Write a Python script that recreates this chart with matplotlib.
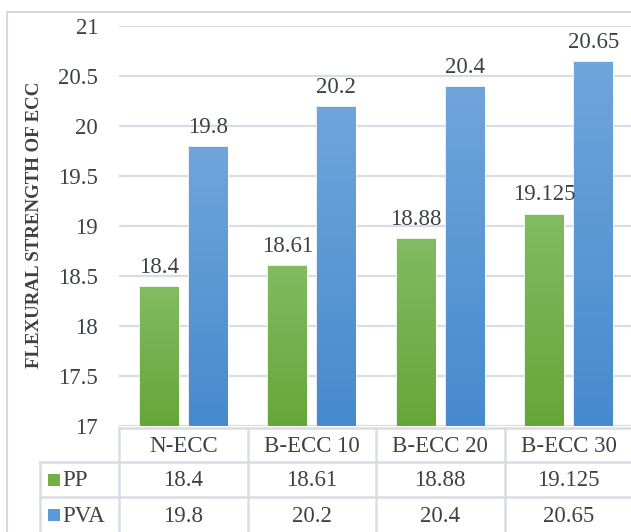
import matplotlib
matplotlib.use("Agg")
import matplotlib.pyplot as plt
import numpy as np
from matplotlib.lines import Line2D
from matplotlib.patches import Rectangle
from matplotlib.colors import LinearSegmentedColormap

categories = ["N-ECC", "B-ECC 10", "B-ECC 20", "B-ECC 30"]
pp_values = [18.4, 18.61, 18.88, 19.125]
pva_values = [19.8, 20.2, 20.4, 20.65]
pp_labels = ["18.4", "18.61", "18.88", "19.125"]
pva_labels = ["19.8", "20.2", "20.4", "20.65"]
series_names = ["PP", "PVA"]
y_ticks = [17, 17.5, 18, 18.5, 19, 19.5, 20, 20.5, 21]

W, H = 631, 532
TEXT = "#3e4048"
GRID = "#d9dde3"
FS = 16.5

plt.rcParams["font.family"] = ["Liberation Serif", "DejaVu Serif"]


def fx(x):
    return x / W


def fy(y):
    return 1 - y / H


def gradient_bars(ax, bars, top, bottom):
    # office-like vertical gradient, clipped to each bar
    cmap = LinearSegmentedColormap.from_list("g", [bottom, top])
    grad = np.linspace(0, 1, 256).reshape(-1, 1)
    ymin = ax.get_ylim()[0]
    for b in bars:
        x0 = b.get_x()
        y1 = b.get_y() + b.get_height()
        im = ax.imshow(grad, cmap=cmap, origin="lower", aspect="auto",
                       extent=[x0, x0 + b.get_width(), ymin, y1], zorder=2)
        im.set_clip_path(b)


fig = plt.figure(figsize=(W / 100, H / 100), dpi=100)
ax = fig.add_axes([fx(119), fy(426), fx(633 - 119), (426 - 26) / H])
ax.set_xlim(-0.5, len(categories) - 0.5)
ax.set_ylim(y_ticks[0], y_ticks[-1])

x = np.arange(len(categories))
w = 0.31
off = 0.19
base = y_ticks[0]
pp_bars = ax.bar(x - off, np.array(pp_values) - base, w, bottom=base,
                 facecolor="none", edgecolor="white", linewidth=0.6, zorder=3)
pva_bars = ax.bar(x + off, np.array(pva_values) - base, w, bottom=base,
                  facecolor="none", edgecolor="white", linewidth=0.6, zorder=3)
gradient_bars(ax, pp_bars, "#82bb62", "#66a637")
gradient_bars(ax, pva_bars, "#70a5db", "#468ace")
ax.set_xlim(-0.5, len(categories) - 0.5)
ax.set_ylim(y_ticks[0], y_ticks[-1])

for bars, labels in [(pp_bars, pp_labels), (pva_bars, pva_labels)]:
    for b, lab in zip(bars, labels):
        ax.annotate(lab, (b.get_x() + b.get_width() / 2, b.get_y() + b.get_height()),
                    xytext=(0, 6), textcoords="offset points",
                    ha="center", va="bottom", fontsize=FS, color=TEXT)

ax.set_yticks(y_ticks)
ax.set_yticklabels([f"{t:g}" for t in y_ticks], fontsize=FS, color=TEXT)
ax.set_xticks([])
ax.tick_params(axis="y", length=0, pad=15)
ax.yaxis.grid(True, color=GRID, linewidth=1.6, zorder=0)
ax.set_axisbelow(True)
for s in ax.spines.values():
    s.set_visible(False)

fig.text(fx(35), fy(225), "FLEXURAL STRENGTH OF ECC", rotation=90,
         ha="center", va="center", fontsize=13.6, fontweight="bold", color=TEXT)

# outer chart border
fig.add_artist(Rectangle((fx(7), fy(540)), fx(640), (540 - 12) / H,
                         fill=False, edgecolor="#d9d9d9", linewidth=1.5,
                         transform=fig.transFigure))

# data table below the plot
col_w = (633 - 119) / len(categories)
tab_lw = 1.8
fig.add_artist(Line2D([fx(119), fx(640)], [fy(428), fy(428)], color=GRID, lw=tab_lw))
for yy in (462, 497):
    fig.add_artist(Line2D([fx(40), fx(640)], [fy(yy), fy(yy)], color=GRID, lw=tab_lw))
fig.add_artist(Line2D([fx(119), fx(119)], [fy(428), fy(540)], color=GRID, lw=tab_lw))
fig.add_artist(Line2D([fx(40), fx(40)], [fy(462), fy(540)], color=GRID, lw=tab_lw))
for i in range(1, len(categories)):
    xx = 119 + i * col_w
    fig.add_artist(Line2D([fx(xx), fx(xx)], [fy(428), fy(540)], color=GRID, lw=tab_lw))

for i, c in enumerate(categories):
    cx = 119 + (i + 0.5) * col_w
    fig.text(fx(cx), fy(446), c, ha="center", va="center", fontsize=FS, color=TEXT)
    fig.text(fx(cx), fy(481), pp_labels[i], ha="center", va="center", fontsize=FS, color=TEXT)
    fig.text(fx(cx), fy(516), pva_labels[i], ha="center", va="center", fontsize=FS, color=TEXT)

for name, yy, col in [(series_names[0], 480, "#70b044"), (series_names[1], 515, "#5b9bd5")]:
    fig.add_artist(Rectangle((fx(48), fy(yy + 6)), fx(12), 12 / H,
                             facecolor=col, edgecolor="none", transform=fig.transFigure))
    fig.text(fx(62), fy(yy + 1), name, ha="left", va="center", fontsize=FS, color=TEXT)

fig.savefig("out.png", dpi=100)
